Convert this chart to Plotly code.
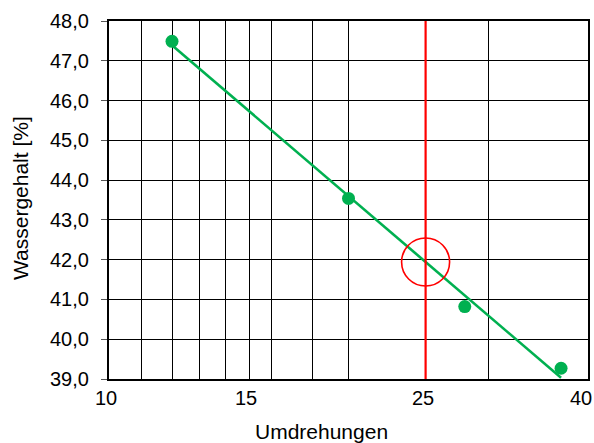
import numpy as np
import plotly.graph_objects as go

# Fließgrenzenversuch: Schlagzahlen und zugehörige Wassergehalte
umdrehungen = [12, 20, 28, 37]
wassergehalt = [47.49, 43.54, 40.82, 39.27]

# Bezugsschlagzahl für die Fließgrenze
n_ref = 25

x_ticks = [10, 15, 25, 40]
x_minor_grid = [11, 12, 13, 14, 16, 18, 20, 30]
y_ticks = [39, 40, 41, 42, 43, 44, 45, 46, 47, 48]

# Ausgleichsgerade im halblogarithmischen Maßstab
logx = np.log10(umdrehungen)
slope, intercept = np.polyfit(logx, wassergehalt, 1)
fit_x = [min(umdrehungen), max(umdrehungen)]
fit_y = [slope * np.log10(v) + intercept for v in fit_x]
w_ref = slope * np.log10(n_ref) + intercept

GREEN = "#00B050"
RED = "#FF0000"
FONT = "Liberation Sans, Arial, sans-serif"
FS = 20
FS_TITLE = 21

# Plotbereich in Pixeln
L, R, T, B = 109, 6, 21, 64
W, H = 594, 443
plot_w = W - L - R
plot_h = H - T - B

fig = go.Figure()

fig.add_trace(go.Scatter(
    x=fit_x, y=fit_y, mode="lines",
    line=dict(color=GREEN, width=2.6), hoverinfo="skip", showlegend=False,
))
fig.add_trace(go.Scatter(
    x=umdrehungen, y=wassergehalt, mode="markers",
    marker=dict(color=GREEN, size=13, line=dict(width=0)), showlegend=False,
))

fig.add_vline(x=n_ref, line=dict(color=RED, width=2.2), layer="above")

fig.add_trace(go.Scatter(
    x=[n_ref], y=[w_ref], mode="markers",
    marker=dict(symbol="circle-open", size=48, color=RED, line=dict(color=RED, width=1.6)),
    showlegend=False,
))

fig.update_layout(
    width=W, height=H,
    margin=dict(l=L, r=R, t=T, b=B, autoexpand=False),
    paper_bgcolor="white", plot_bgcolor="white",
    font=dict(family=FONT, size=FS, color="#000"),
    separators=",.",
    showlegend=False,
)

fig.update_xaxes(
    type="log", range=[1 - 1e-6, np.log10(40) + 1e-6],
    tickmode="array", tickvals=x_ticks, showticklabels=False,
    ticks="", showgrid=True, gridcolor="black", gridwidth=1,
    minor=dict(tickmode="array", tickvals=x_minor_grid, showgrid=True,
               gridcolor="black", gridwidth=1, ticks=""),
    showline=True, linecolor="black", linewidth=2.2, mirror=True,
    zeroline=False, automargin=False,
)
fig.update_yaxes(
    range=[39, 48], tickmode="array", tickvals=y_ticks, tickformat=".1f",
    ticks="outside", ticklen=6, tickcolor="#555", tickwidth=1,
    ticklabelstandoff=8,
    showgrid=True, gridcolor="black", gridwidth=1,
    showline=True, linecolor="black", linewidth=2.2, mirror=True,
    zeroline=False, tickfont=dict(size=FS), automargin=False,
)

# x-Beschriftung als Textfelder, damit die letzte Zahl im Bild bleibt
for i, v in enumerate(x_ticks):
    last = i == len(x_ticks) - 1
    fig.add_annotation(
        text=str(v), xref="x", yref="paper", x=np.log10(v), y=0,
        xanchor="right" if last else "center", yanchor="middle",
        xshift=6 if last else -3, yshift=-19,
        showarrow=False, font=dict(size=FS),
    )

fig.add_annotation(
    text="Umdrehungen", xref="paper", yref="paper",
    x=(321 - L) / plot_w, y=-(431 - (H - B)) / plot_h, showarrow=False,
    xanchor="center", yanchor="middle", font=dict(size=FS_TITLE),
)
fig.add_annotation(
    text="Wassergehalt [%]", xref="paper", yref="paper", textangle=-90,
    x=-(L - 21) / plot_w, y=1 - (198 - T) / plot_h, showarrow=False,
    xanchor="center", yanchor="middle", font=dict(size=FS_TITLE),
)

fig.write_html("out.html")
